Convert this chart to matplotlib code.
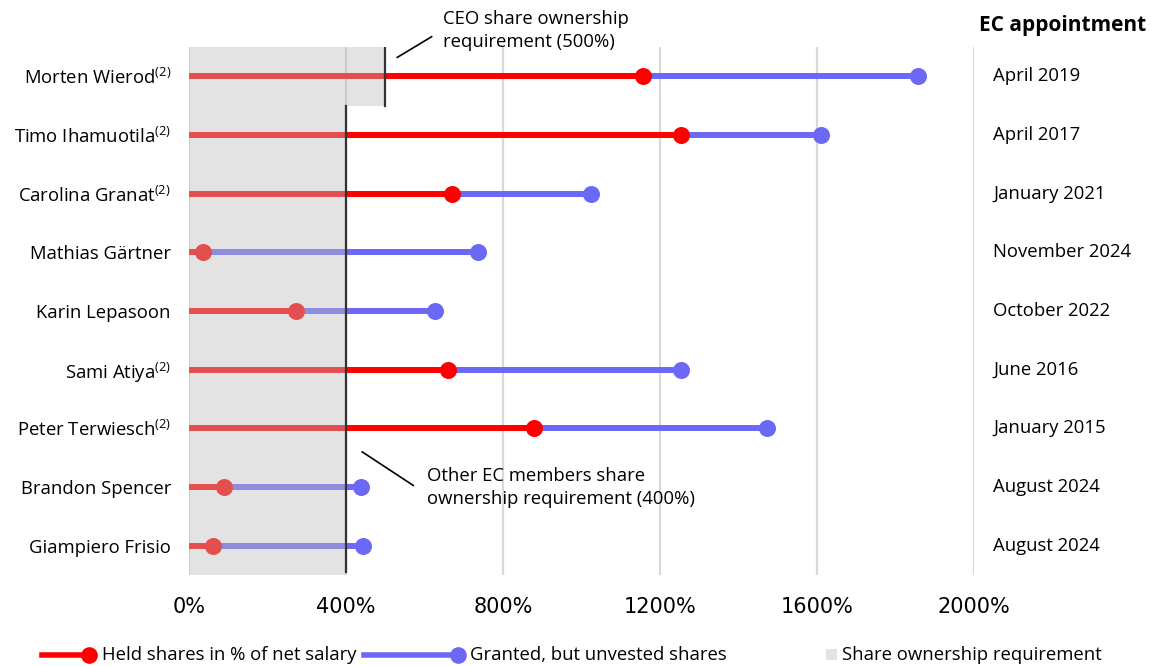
import matplotlib.pyplot as plt
from matplotlib.lines import Line2D
from matplotlib.patches import Rectangle

plt.rcParams['font.family'] = ['Open Sans', 'DejaVu Sans']
plt.rcParams['mathtext.fontset'] = 'custom'
plt.rcParams['mathtext.rm'] = 'Open Sans'

# data (% of net salary)
names = ['Morten Wierod', 'Timo Ihamuotila', 'Carolina Granat', 'Mathias Gärtner',
         'Karin Lepasoon', 'Sami Atiya', 'Peter Terwiesch', 'Brandon Spencer',
         'Giampiero Frisio']
footnote = [True, True, True, False, False, True, True, False, False]
held = [1157, 1253, 670, 36, 273, 660, 879, 89, 61]
granted = [1857, 1610, 1024, 736, 627, 1253, 1473, 438, 443]
appointed = ['April 2019', 'April 2017', 'January 2021', 'November 2024', 'October 2022',
             'June 2016', 'January 2015', 'August 2024', 'August 2024']
ceo_req = 500
other_req = 400
xticks = [0, 400, 800, 1200, 1600, 2000]

RED = '#ff0000'
BLUE = '#6b68f5'
W, H = 1157, 666
FS = 13.3

fig = plt.figure(figsize=(W / 100, H / 100), dpi=100)
ax = fig.add_axes([189 / W, 1 - 575 / H, 785 / W, 528 / H])
ax.set_xlim(0, 2000)
ax.set_ylim(len(names) - 0.5, -0.5)

for x in xticks:
    ax.axvline(x, color='#d9d9d9', lw=1.6, zorder=0)

rows = range(len(names))
for i in rows:
    ax.plot([0, held[i]], [i, i], color=RED, lw=4.3, solid_capstyle='butt', zorder=2)
    ax.plot([held[i], granted[i]], [i, i], color=BLUE, lw=4.3, solid_capstyle='butt', zorder=2)
ax.scatter(granted, list(rows), s=150, color=BLUE, zorder=3, linewidths=0)
ax.scatter(held, list(rows), s=150, color=RED, zorder=3, linewidths=0)

# requirement shading on top of lines
ax.add_patch(Rectangle((0, -0.5), other_req, len(names), color='#bebebe', alpha=0.42,
                       lw=0, zorder=4))
ax.add_patch(Rectangle((other_req, -0.5), ceo_req - other_req, 1, color='#bebebe', alpha=0.42,
                       lw=0, zorder=4))
ax.plot([ceo_req, ceo_req], [-0.5, 0.5], color='#333333', lw=1.6, zorder=5)
ax.plot([other_req, other_req], [0.5, len(names) - 0.55], color='#333333', lw=1.6, zorder=5)

labels = [n + ('$^{(2)}$' if f else '') for n, f in zip(names, footnote)]
ax.set_yticks(list(rows))
ax.set_yticklabels(labels, fontsize=FS)
ax.tick_params(axis='y', length=0, pad=13)
ax.set_xticks(xticks)
ax.set_xticklabels([f'{x}%' for x in xticks], family='Liberation Sans Narrow', fontsize=15)
ax.tick_params(axis='x', length=0, pad=16)
for s in ax.spines.values():
    s.set_visible(False)

for i in rows:
    ax.text(1.0242, i, appointed[i], transform=ax.get_yaxis_transform(), fontsize=FS,
            ha='left', va='center')
fig.text(1063 / W, 1 - 25 / H, 'EC appointment', fontsize=15, weight='bold',
         ha='center', va='center')

ax.annotate('CEO share ownership\nrequirement (500%)', xy=(530, -0.32), xytext=(647, -0.78),
            fontsize=FS, ha='left', va='center', annotation_clip=False, linespacing=1.3,
            arrowprops=dict(arrowstyle='-', color='black', lw=1.2, shrinkA=0, shrinkB=0,
                            relpos=(-0.06, 0.35)))
ax.annotate('Other EC members share\nownership requirement (400%)', xy=(441, 6.4),
            xytext=(606, 7.01), fontsize=FS, ha='left', va='center', linespacing=1.3,
            arrowprops=dict(arrowstyle='-', color='black', lw=1.2, shrinkA=0, shrinkB=0,
                            relpos=(-0.05, 0.55)))

# legend along the bottom
ly = 1 - 655 / H
fig.add_artist(Line2D([42 / W, 89 / W], [ly, ly], color=RED, lw=4))
fig.add_artist(Line2D([89 / W], [ly], color=RED, marker='o', ms=12, mew=0))
fig.text(102 / W, ly, 'Held shares in % of net salary', fontsize=FS, va='center')
fig.add_artist(Line2D([364 / W, 458 / W], [ly, ly], color=BLUE, lw=4))
fig.add_artist(Line2D([458 / W], [ly], color=BLUE, marker='o', ms=12, mew=0))
fig.text(470 / W, ly, 'Granted, but unvested shares', fontsize=FS, va='center')
fig.add_artist(Rectangle((826 / W, ly - 5 / H), 11 / W, 11 / H, color='#e3e3e3', lw=0))
fig.text(842 / W, ly, 'Share ownership requirement', fontsize=FS, va='center')

fig.savefig('out.png', dpi=100)
